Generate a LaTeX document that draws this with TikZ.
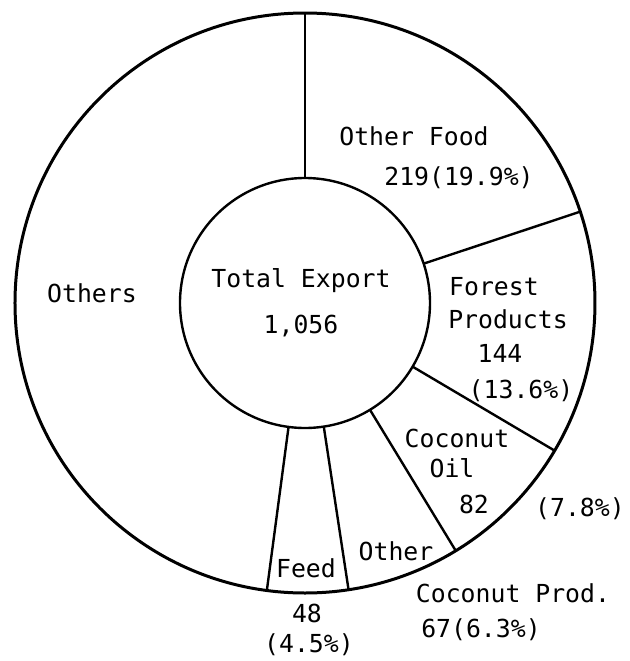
\documentclass[tikz,border=0pt]{standalone}
\usepackage{fontspec}
\newfontfamily\chartfont{DejaVu Sans Mono}
\usepackage{tikz}
\usetikzlibrary{calc}

\begin{document}
\begin{tikzpicture}[x=0.5pt, y=0.5pt, seg/.style={font=\chartfont\fontsize{12.4}{14}\selectfont, anchor=base, inner sep=0pt}]
	\fill[white] (-305,-358) rectangle (324,303); % weisser Rand um Grafik
	
	\draw[line width=1.5pt] (0,0) circle[radius=290]; % Ring
	\draw[line width=1.2pt] (0,0) circle[radius=125];
	
	\foreach \w in {90,18.36,-30.6,-58.68,-81.36,-97.56} % Trennlinien
		\draw[line width=1.2pt] (\w:125) -- (\w:290);
	
	\node[seg] (total) at (-4,16) {Total Export};
	\node[seg] (totalval) at (-4,-30) {1,056};
	
	\node[seg] (food) at (109,158) {Other Food};
	\node[seg] (foodval) at (154,118) {219(19.9\%)};
	
	\node[seg] (forest) at (189,8) {Forest};
	\node[seg] (forest2) at (203,-25) {Products};
	\node[seg] (forestval) at (195,-59) {144};
	\node[seg] (forestpct) at (216,-95) {(13.6\%)};
	
	\node[seg] (oil) at (152,-144) {Coconut};
	\node[seg] (oil2) at (147,-174) {Oil};
	\node[seg] (oilval) at (169,-210) {82};
	\node[seg] (oilpct) at (275,-213) {(7.8\%)};
	
	\node[seg] (coco) at (91,-257) {Other};
	\node[seg] (coco2) at (208,-299) {Coconut Prod.};
	\node[seg] (cocoval) at (176,-334) {67(6.3\%)};
	
	\node[seg] (feed) at (1,-274) {Feed};
	\node[seg] (feedval) at (2,-319) {48};
	\node[seg] (feedpct) at (4,-349) {(4.5\%)};
	
	\node[seg] (others) at (-213,1) {Others};
	
	%\draw[help lines] (-305,-358) grid[step=50] (324,303);
\end{tikzpicture}
\end{document}
